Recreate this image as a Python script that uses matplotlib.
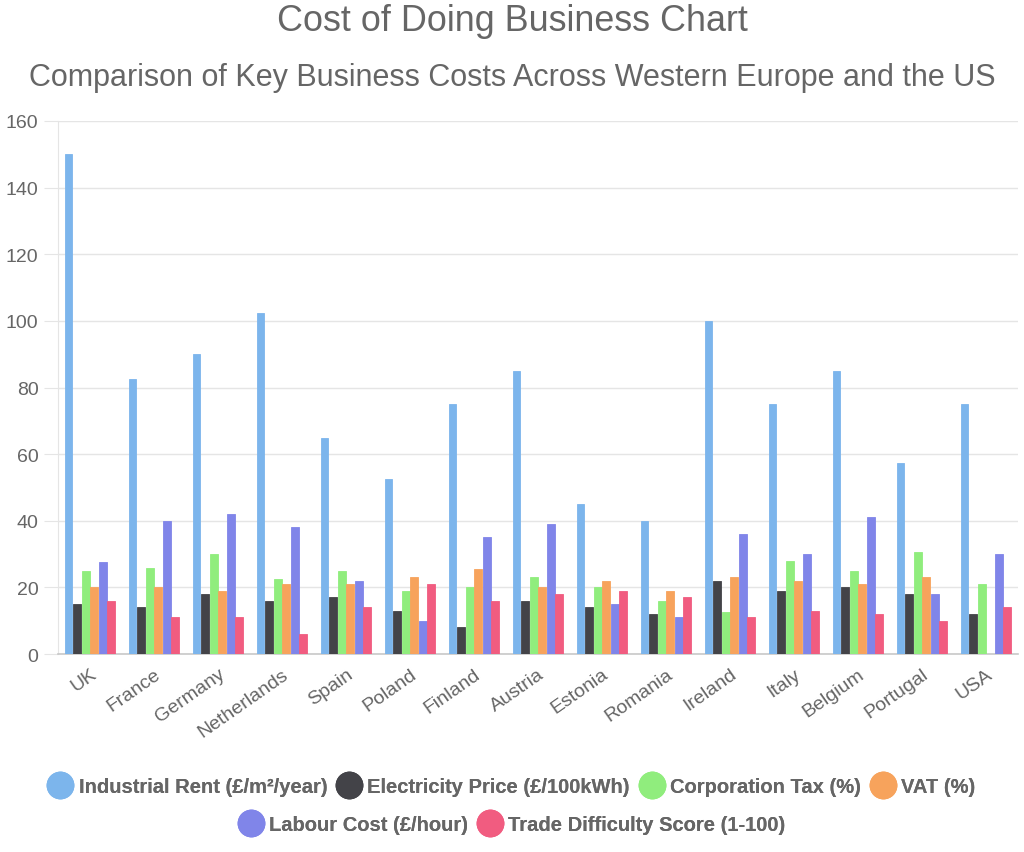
from matplotlib import pyplot as plt
from matplotlib.lines import Line2D
import numpy as np

plt.rcParams['font.family'] = ['Liberation Sans', 'DejaVu Sans']

countries = ["UK", "France", "Germany", "Netherlands", "Spain", "Poland", "Finland",
             "Austria", "Estonia", "Romania", "Ireland", "Italy", "Belgium", "Portugal", "USA"]
rent = [150, 82.5, 90, 102.5, 65, 52.5, 75, 85, 45, 40, 100, 75, 85, 57.5, 75]
electricity = [15, 14, 18, 16, 17, 13, 8, 16, 14, 12, 22, 19, 20, 18, 12]
corp_tax = [25, 25.8, 30, 22.4, 25, 19, 20, 23, 20, 16, 12.5, 27.8, 25, 30.5, 21]
vat = [20, 20, 19, 21, 21, 23, 25.5, 20, 22, 19, 23, 22, 21, 23, 0]
labour = [27.5, 40, 42, 38, 22, 10, 35, 39, 15, 11, 36, 30, 41, 18, 30]
trade = [16, 11, 11, 6, 14, 21, 16, 18, 19, 17, 11, 13, 12, 10, 14]

series = [rent, electricity, corp_tax, vat, labour, trade]
labels = ["Industrial Rent (£/m²/year)", "Electricity Price (£/100kWh)", "Corporation Tax (%)",
          "VAT (%)", "Labour Cost (£/hour)", "Trade Difficulty Score (1-100)"]
colors = ["#7cb5ec", "#434348", "#90ed7d", "#f7a35c", "#8085e9", "#f15c80"]

txt = "#666666"
fig = plt.figure(figsize=(10.24, 8.53), dpi=100)
ax = fig.add_axes([0.0566, 0.232, 0.9375, 0.625])

x = np.arange(len(countries))
group = 0.8
slot = group / len(series)
for i, (vals, lab, c) in enumerate(zip(series, labels, colors)):
    pos = x - group / 2 + slot * (i + 0.5)
    ax.bar(pos, vals, width=slot * 0.9, color=c, edgecolor=c, linewidth=0.6, label=lab, zorder=3)

ax.set_xlim(-0.5, len(countries) - 0.5)
ax.set_ylim(0, 160)
ax.set_yticks(range(0, 161, 20))
ax.set_xticks(x)
ax.set_xticklabels(countries, rotation=35, ha='right', rotation_mode='anchor')
ax.tick_params(axis='x', length=0, labelsize=14, colors=txt, pad=8)
ax.tick_params(axis='y', length=10, color="#e5e5e5", labelsize=14, labelcolor=txt, pad=4)
ax.grid(axis='y', color="#e5e5e5", linewidth=1, zorder=0)
for s in ['top', 'right']:
    ax.spines[s].set_visible(False)
ax.spines['left'].set_color("#e5e5e5")
ax.spines['bottom'].set_color("#c8c8c8")
ax.spines['bottom'].set_linewidth(1.2)

fig.text(0.5, 0.975, "Cost of Doing Business Chart", ha='center', va='center', fontsize=25.8, color=txt)
fig.text(0.5, 0.909, "Comparison of Key Business Costs Across Western Europe and the US",
         ha='center', va='center', fontsize=22, color=txt)

handles = [Line2D([], [], marker='o', linestyle='', markersize=19, markerfacecolor=c,
                  markeredgecolor=c) for c in colors]
rows = [(0, 4, 0.077), (4, 6, 0.032)]
for a, b, yy in rows:
    leg = fig.legend(handles[a:b], labels[a:b], loc='center', bbox_to_anchor=(0.5, yy),
                     ncol=b - a, frameon=False, handletextpad=0.3, columnspacing=0.5,
                     handlelength=1.2, prop={'size': 14.5, 'weight': 'bold'})
    for t in leg.get_texts():
        t.set_color(txt)
    fig.add_artist(leg)

plt.savefig("out.png", dpi=100)
